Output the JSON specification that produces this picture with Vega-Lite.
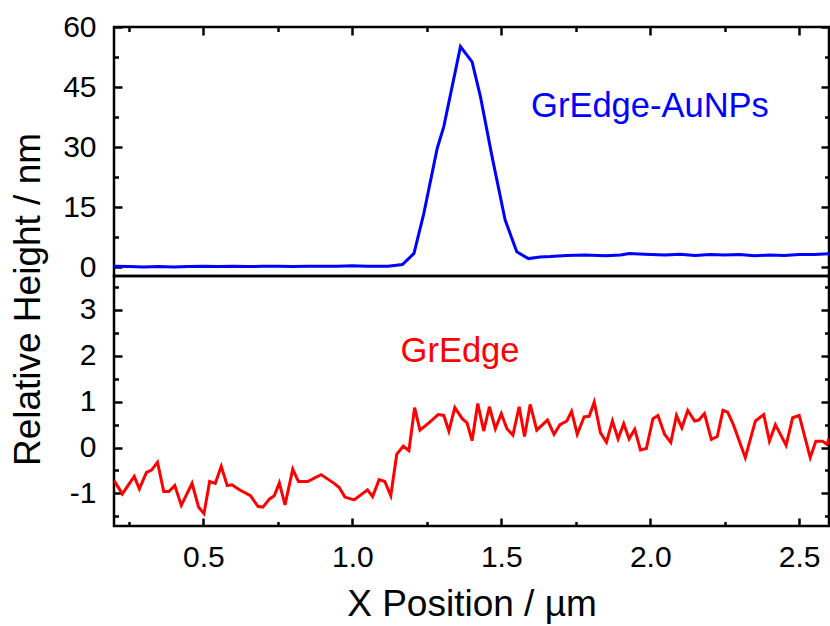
{
  "$schema": "https://vega.github.io/schema/vega-lite/v6.json",
  "background": "white",
  "padding": {"left": 7, "top": 10, "right": 2, "bottom": 2},
  "spacing": 0,
  "bounds": "flush",
  "datasets": {
    "blue": [
      {"x":0.2,"y":0.2},{"x":0.25,"y":0.1},{"x":0.3,"y":0.0},{"x":0.35,"y":0.1},{"x":0.4,"y":0.0},{"x":0.45,"y":0.1},{"x":0.5,"y":0.2},{"x":0.55,"y":0.1},{"x":0.6,"y":0.2},{"x":0.65,"y":0.1},{"x":0.7,"y":0.2},{"x":0.75,"y":0.2},{"x":0.8,"y":0.1},{"x":0.85,"y":0.2},{"x":0.9,"y":0.2},{"x":0.95,"y":0.2},{"x":1.0,"y":0.3},{"x":1.05,"y":0.2},{"x":1.12,"y":0.2},{"x":1.168,"y":0.6},{"x":1.207,"y":3.4},{"x":1.24,"y":13.4},{"x":1.285,"y":29.7},{"x":1.307,"y":35.1},{"x":1.363,"y":55.1},{"x":1.402,"y":51.3},{"x":1.43,"y":42.6},{"x":1.469,"y":27.6},{"x":1.513,"y":11.75},{"x":1.552,"y":3.8},{"x":1.591,"y":2.1},{"x":1.63,"y":2.5},{"x":1.664,"y":2.6},{"x":1.72,"y":2.9},{"x":1.78,"y":3.0},{"x":1.85,"y":2.8},{"x":1.9,"y":3.0},{"x":1.93,"y":3.4},{"x":1.98,"y":3.2},{"x":2.05,"y":3.0},{"x":2.1,"y":3.2},{"x":2.15,"y":2.9},{"x":2.2,"y":3.1},{"x":2.25,"y":3.0},{"x":2.3,"y":3.1},{"x":2.35,"y":2.8},{"x":2.4,"y":3.0},{"x":2.45,"y":2.9},{"x":2.5,"y":3.1},{"x":2.55,"y":3.1},{"x":2.6,"y":3.3}
    ],
    "red": [
      {"x":0.2,"y":-0.72},{"x":0.206,"y":-0.78},{"x":0.228,"y":-1.01},{"x":0.268,"y":-0.63},{"x":0.285,"y":-0.9},{"x":0.309,"y":-0.54},{"x":0.326,"y":-0.49},{"x":0.346,"y":-0.32},{"x":0.367,"y":-0.96},{"x":0.384,"y":-0.96},{"x":0.404,"y":-0.83},{"x":0.426,"y":-1.26},{"x":0.462,"y":-0.78},{"x":0.484,"y":-1.3},{"x":0.502,"y":-1.44},{"x":0.521,"y":-0.74},{"x":0.54,"y":-0.78},{"x":0.56,"y":-0.41},{"x":0.58,"y":-0.83},{"x":0.596,"y":-0.81},{"x":0.621,"y":-0.92},{"x":0.658,"y":-1.05},{"x":0.683,"y":-1.28},{"x":0.7,"y":-1.3},{"x":0.722,"y":-1.12},{"x":0.738,"y":-1.05},{"x":0.755,"y":-0.77},{"x":0.774,"y":-1.25},{"x":0.8,"y":-0.47},{"x":0.819,"y":-0.74},{"x":0.85,"y":-0.74},{"x":0.895,"y":-0.59},{"x":0.939,"y":-0.78},{"x":0.956,"y":-0.87},{"x":0.975,"y":-1.08},{"x":1.006,"y":-1.14},{"x":1.051,"y":-0.92},{"x":1.068,"y":-1.07},{"x":1.09,"y":-0.7},{"x":1.109,"y":-0.74},{"x":1.129,"y":-1.05},{"x":1.149,"y":-0.15},{"x":1.171,"y":0.03},{"x":1.19,"y":-0.07},{"x":1.209,"y":0.87},{"x":1.227,"y":0.38},{"x":1.257,"y":0.54},{"x":1.288,"y":0.72},{"x":1.307,"y":0.7},{"x":1.324,"y":0.36},{"x":1.344,"y":0.87},{"x":1.369,"y":0.63},{"x":1.385,"y":0.54},{"x":1.402,"y":0.15},{"x":1.421,"y":0.96},{"x":1.441,"y":0.36},{"x":1.46,"y":0.89},{"x":1.48,"y":0.41},{"x":1.5,"y":0.74},{"x":1.519,"y":0.41},{"x":1.539,"y":0.27},{"x":1.56,"y":0.89},{"x":1.578,"y":0.24},{"x":1.597,"y":0.94},{"x":1.619,"y":0.38},{"x":1.655,"y":0.6},{"x":1.677,"y":0.29},{"x":1.697,"y":0.5},{"x":1.72,"y":0.58},{"x":1.736,"y":0.79},{"x":1.755,"y":0.29},{"x":1.778,"y":0.67},{"x":1.795,"y":0.68},{"x":1.812,"y":0.99},{"x":1.833,"y":0.32},{"x":1.853,"y":0.12},{"x":1.873,"y":0.58},{"x":1.892,"y":0.19},{"x":1.911,"y":0.52},{"x":1.929,"y":0.19},{"x":1.948,"y":0.4},{"x":1.967,"y":-0.05},{"x":1.987,"y":-0.02},{"x":2.009,"y":0.63},{"x":2.026,"y":0.7},{"x":2.048,"y":0.29},{"x":2.069,"y":0.11},{"x":2.088,"y":0.7},{"x":2.106,"y":0.43},{"x":2.126,"y":0.81},{"x":2.149,"y":0.58},{"x":2.163,"y":0.6},{"x":2.182,"y":0.74},{"x":2.205,"y":0.18},{"x":2.225,"y":0.24},{"x":2.244,"y":0.81},{"x":2.26,"y":0.77},{"x":2.279,"y":0.5},{"x":2.319,"y":-0.22},{"x":2.353,"y":0.58},{"x":2.381,"y":0.72},{"x":2.4,"y":0.14},{"x":2.42,"y":0.5},{"x":2.456,"y":0.05},{"x":2.478,"y":0.65},{"x":2.5,"y":0.7},{"x":2.537,"y":-0.22},{"x":2.556,"y":0.14},{"x":2.578,"y":0.14},{"x":2.593,"y":0.07},{"x":2.6,"y":0.2}
    ],
    "labTop": [{"x":1.6,"y":37.5,"label":"GrEdge-AuNPs"}],
    "labBot": [{"x":1.162,"y":1.87,"label":"GrEdge"}]
  },
  "vconcat": [
    {
      "width": 715,
      "height": 249,
      "layer": [
        {
          "data": {"name": "blue"},
          "mark": {"type": "line", "color": "#0000ff", "strokeWidth": 3, "clip": true},
          "encoding": {
            "x": {"field": "x", "type": "quantitative", "scale": {"domain": [0.2, 2.6], "nice": false, "zero": false},
                  "axis": {"orient": "top", "values": [0.5, 1, 1.5, 2, 2.5], "labels": false, "tickSize": -8, "title": null}},
            "y": {"field": "y", "type": "quantitative", "scale": {"domain": [-2.25, 60], "nice": false, "zero": false},
                  "axis": {"orient": "left", "values": [0, 15, 30, 45, 60], "tickSize": -8, "labelPadding": 26,
                           "title": "Relative Height / nm", "titleX": -86, "titleY": 272, "titleAngle": -90,
                           "titleAlign": "center", "titleBaseline": "middle"}}
          }
        },
        {
          "data": {"name": "labTop"},
          "mark": {"type": "text", "color": "#0000ff", "fontSize": 34.5, "font": "Liberation Sans", "align": "left", "baseline": "alphabetic"},
          "encoding": {
            "x": {"field": "x", "type": "quantitative", "scale": {"domain": [0.2, 2.6], "nice": false, "zero": false},
                  "axis": {"orient": "top", "values": [0.25, 0.75, 1.25, 1.75, 2.25], "labels": false, "tickSize": -4.5, "title": null}},
            "y": {"field": "y", "type": "quantitative", "scale": {"domain": [-2.25, 60], "nice": false, "zero": false},
                  "axis": {"orient": "left", "values": [7.5, 22.5, 37.5, 52.5], "labels": false, "tickSize": -4.5, "title": null}},
            "text": {"field": "label"}
          }
        },
        {
          "data": {"name": "blue"},
          "mark": {"type": "line", "strokeOpacity": 0},
          "encoding": {
            "x": {"field": "x", "type": "quantitative", "scale": {"domain": [0.2, 2.6], "nice": false, "zero": false}, "axis": null},
            "y": {"field": "y", "type": "quantitative", "scale": {"domain": [-2.25, 60], "nice": false, "zero": false},
                  "axis": {"orient": "right", "values": [0, 15, 30, 45, 60], "labels": false, "tickSize": -8, "title": null}}
          }
        },
        {
          "data": {"name": "blue"},
          "mark": {"type": "line", "strokeOpacity": 0},
          "encoding": {
            "x": {"field": "x", "type": "quantitative", "scale": {"domain": [0.2, 2.6], "nice": false, "zero": false}, "axis": null},
            "y": {"field": "y", "type": "quantitative", "scale": {"domain": [-2.25, 60], "nice": false, "zero": false},
                  "axis": {"orient": "right", "values": [7.5, 22.5, 37.5, 52.5], "labels": false, "tickSize": -4.5, "title": null}}
          }
        }
      ],
      "resolve": {"axis": {"x": "independent", "y": "independent"}}
    },
    {
      "width": 715,
      "height": 250,
      "layer": [
        {
          "data": {"name": "red"},
          "mark": {"type": "line", "color": "#ff0000", "strokeWidth": 3, "clip": true},
          "encoding": {
            "x": {"field": "x", "type": "quantitative", "scale": {"domain": [0.2, 2.6], "nice": false, "zero": false},
                  "axis": {"orient": "bottom", "values": [0.5, 1, 1.5, 2, 2.5], "format": ".1f", "tickSize": -8, "labelPadding": 24,
                           "title": "X Position / µm", "titleBaseline": "alphabetic", "titleY": 89}},
            "y": {"field": "y", "type": "quantitative", "scale": {"domain": [-1.71, 3.74], "nice": false, "zero": false},
                  "axis": {"orient": "left", "values": [-1, 0, 1, 2, 3], "labelExpr": "'' + datum.value", "tickSize": -8, "labelPadding": 26, "title": null}}
          }
        },
        {
          "data": {"name": "labBot"},
          "mark": {"type": "text", "color": "#ff0000", "fontSize": 34.5, "font": "Liberation Sans", "align": "left", "baseline": "alphabetic"},
          "encoding": {
            "x": {"field": "x", "type": "quantitative", "scale": {"domain": [0.2, 2.6], "nice": false, "zero": false},
                  "axis": {"orient": "bottom", "values": [0.25, 0.75, 1.25, 1.75, 2.25], "labels": false, "tickSize": -4.5, "title": null}},
            "y": {"field": "y", "type": "quantitative", "scale": {"domain": [-1.71, 3.74], "nice": false, "zero": false},
                  "axis": {"orient": "left", "values": [-1.5, -0.5, 0.5, 1.5, 2.5, 3.5], "labels": false, "tickSize": -4.5, "title": null}},
            "text": {"field": "label"}
          }
        },
        {
          "data": {"name": "red"},
          "mark": {"type": "line", "strokeOpacity": 0},
          "encoding": {
            "x": {"field": "x", "type": "quantitative", "scale": {"domain": [0.2, 2.6], "nice": false, "zero": false}, "axis": null},
            "y": {"field": "y", "type": "quantitative", "scale": {"domain": [-1.71, 3.74], "nice": false, "zero": false},
                  "axis": {"orient": "right", "values": [-1, 0, 1, 2, 3], "labels": false, "tickSize": -8, "title": null}}
          }
        },
        {
          "data": {"name": "red"},
          "mark": {"type": "line", "strokeOpacity": 0},
          "encoding": {
            "x": {"field": "x", "type": "quantitative", "scale": {"domain": [0.2, 2.6], "nice": false, "zero": false}, "axis": null},
            "y": {"field": "y", "type": "quantitative", "scale": {"domain": [-1.71, 3.74], "nice": false, "zero": false},
                  "axis": {"orient": "right", "values": [-1.5, -0.5, 0.5, 1.5, 2.5, 3.5], "labels": false, "tickSize": -4.5, "title": null}}
          }
        }
      ],
      "resolve": {"axis": {"x": "independent", "y": "independent"}}
    }
  ],
  "config": {
    "view": {"stroke": "black", "strokeWidth": 2.5},
    "concat": {"spacing": 0},
    "axis": {
      "domain": false, "grid": false,
      "tickColor": "black", "tickWidth": 2.5,
      "labelFont": "Liberation Sans", "labelFontSize": 30, "labelColor": "black",
      "titleFont": "Liberation Sans", "titleFontSize": 37, "titleColor": "black", "titleFontWeight": "normal"
    }
  }
}
